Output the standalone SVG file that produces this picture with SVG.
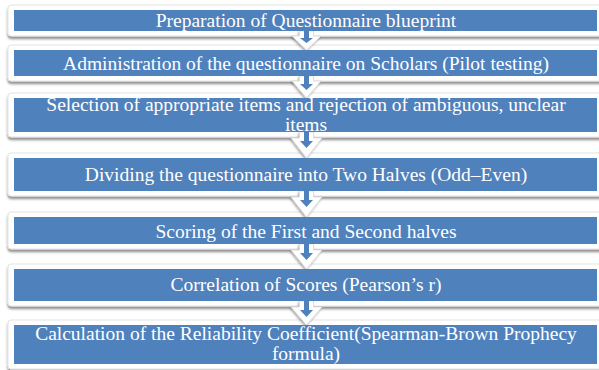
<svg xmlns="http://www.w3.org/2000/svg" width="599" height="370" viewBox="0 0 599 370">
  <defs>
    <filter id="shadow" x="-5%" y="-20%" width="110%" height="160%">
      <feDropShadow dx="0" dy="2.5" stdDeviation="1" flood-color="#000" flood-opacity="0.45"/>
    </filter>
    <filter id="arrowShadow" x="-30%" y="-30%" width="160%" height="160%">
      <feDropShadow dx="-1" dy="1.5" stdDeviation="0.8" flood-color="#000" flood-opacity="0.35"/>
    </filter>
    <style>
      .frame { fill: #ffffff; stroke: #e3e3e3; stroke-width: 1; filter: url(#shadow); }
      .box { fill: #4F81BD; }
      .label { font-family: "Liberation Serif", "Times New Roman", serif; font-size: 19.5px; fill: #ffffff; text-anchor: middle; }
      .arrow-out { fill: #ffffff; stroke: #d8d8d8; stroke-width: 0.8; stroke-linejoin: miter; filter: url(#arrowShadow); }
      .arrow-in { fill: #4F81BD; }
    </style>
  </defs>
  <rect x="0" y="0" width="599" height="370" fill="#ffffff"/>

  <!-- white frames behind each step -->
  <g id="frames">
    <rect class="frame" x="8" y="5" width="600" height="31" rx="3"/>
    <rect class="frame" x="8" y="45" width="600" height="36" rx="3"/>
    <rect class="frame" x="8" y="93" width="600" height="44" rx="3"/>
    <rect class="frame" x="8" y="153" width="600" height="43" rx="3"/>
    <rect class="frame" x="8" y="212" width="600" height="37" rx="3"/>
    <rect class="frame" x="8" y="264" width="600" height="42" rx="3"/>
    <rect class="frame" x="8" y="320" width="600" height="49" rx="3"/>
  </g>

  <!-- connectors: hollow down arrows with a small blue arrow inside -->
  <g id="connectors">
    <path class="arrow-out" d="M299.5 31 H313.5 V36 H321 L306.5 50 L292 36 H299.5 Z"/>
    <path class="arrow-in" d="M304 31 H309 V38 H313 L306.5 43 L300 38 H304 Z"/>

    <path class="arrow-out" d="M299.5 76 H313.5 V81 H321 L306.5 98 L292 81 H299.5 Z"/>
    <path class="arrow-in" d="M304 76 H309 V84 H313 L306.5 90 L300 84 H304 Z"/>

    <path class="arrow-out" d="M299.5 132 H313.5 V138 H322 L306.5 158 L291 138 H299.5 Z"/>
    <path class="arrow-in" d="M304 132 H309 V141 H313 L306.5 148 L300 141 H304 Z"/>

    <path class="arrow-out" d="M299.5 191 H313.5 V197 H322 L306.5 217 L291 197 H299.5 Z"/>
    <path class="arrow-in" d="M304 191 H309 V200 H313 L306.5 207 L300 200 H304 Z"/>

    <path class="arrow-out" d="M299.5 244 H313.5 V250 H322 L306.5 269 L291 250 H299.5 Z"/>
    <path class="arrow-in" d="M304 244 H309 V253 H313 L306.5 260 L300 253 H304 Z"/>

    <path class="arrow-out" d="M299.5 301 H313.5 V307 H322 L306.5 325 L291 307 H299.5 Z"/>
    <path class="arrow-in" d="M304 301 H309 V310 H313 L306.5 317 L300 310 H304 Z"/>
  </g>

  <g id="step1">
    <rect class="box" x="14" y="10" width="583" height="21"/>
    <text class="label" x="306" y="26.5">Preparation of Questionnaire blueprint</text>
  </g>
  <g id="step2">
    <rect class="box" x="14" y="50" width="583" height="26"/>
    <text class="label" x="306" y="69.5">Administration of the questionnaire on Scholars (Pilot testing)</text>
  </g>
  <g id="step3">
    <rect class="box" x="14" y="98" width="583" height="34"/>
    <text class="label" x="306" y="111">Selection of appropriate items and rejection of ambiguous, unclear</text>
    <text class="label" x="306" y="130.5">items</text>
  </g>
  <g id="step4">
    <rect class="box" x="14" y="158" width="583" height="33"/>
    <text class="label" x="306" y="181">Dividing the questionnaire into Two Halves (Odd–Even)</text>
  </g>
  <g id="step5">
    <rect class="box" x="14" y="217" width="583" height="27"/>
    <text class="label" x="306" y="237.5">Scoring of the First and Second halves</text>
  </g>
  <g id="step6">
    <rect class="box" x="14" y="269" width="583" height="32"/>
    <text class="label" x="306" y="291">Correlation of Scores (Pearson’s r)</text>
  </g>
  <g id="step7">
    <rect class="box" x="14" y="325" width="583" height="39"/>
    <text class="label" x="306" y="340">Calculation of the Reliability Coefficient(Spearman-Brown Prophecy</text>
    <text class="label" x="306" y="360">formula)</text>
  </g>
</svg>
